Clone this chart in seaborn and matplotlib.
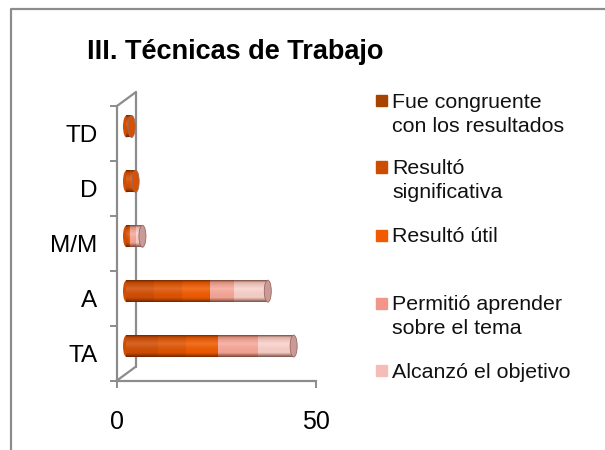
import matplotlib
matplotlib.use("Agg")
import matplotlib.pyplot as plt
from matplotlib.colors import LinearSegmentedColormap
from matplotlib.lines import Line2D
from matplotlib.patches import Ellipse, Rectangle
import numpy as np
import seaborn as sns

categories = ['TD', 'D', 'M/M', 'A', 'TA']
congruente = [0.5, 1.0, 0.3, 7, 8]
significativa = [0.4, 0.7, 0.3, 7, 7]
util = [0.4, 0.6, 0.3, 7, 8]
aprender = [0, 0, 1.5, 6, 10]
objetivo = [0, 0, 1.6, 8.5, 9]

series_names = ['Fue congruente\ncon los resultados', 'Resultó\nsignificativa', 'Resultó útil',
                'Permitió aprender\nsobre el tema', 'Alcanzó el objetivo']
series_colors = ['#A84200', '#CC4C00', '#F05A00', '#F19688', '#F5BDB7']
# the cylinders look brighter than their legend keys
bar_colors = ['#D24D02', '#DF5300', '#F05A00', '#F7A89A', '#FAD2CD']
xticks = [0, 50]

W, H = 605, 450
GRAY = '#8c8c8c'

sns.set_theme(style='white')
plt.rcParams['font.family'] = ['Liberation Sans', 'DejaVu Sans']


def rect(x0, y0, x1, y1):
    """axes rect from pixel box, y measured from the top"""
    return [x0 / W, 1 - y1 / H, (x1 - x0) / W, (y1 - y0) / H]


fig = plt.figure(figsize=(W / 100, H / 100), dpi=100, facecolor='white')

# frame of the pasted chart, only top and left are visible
fig.add_artist(Line2D([11 / W, 11 / W, 1], [0, 1 - 9 / H, 1 - 9 / H], color=GRAY, lw=1.6))

fig.text(87 / W, 1 - 52 / H, 'III. Técnicas de Trabajo', fontsize=19.5, fontweight='bold',
         color='black', va='center', ha='left')

# front axes
ax = fig.add_axes(rect(117, 106, 316, 380.5))
ax.set_xlim(0, 50)
ax.set_ylim(5, 0)
for side in ['top', 'right']:
    ax.spines[side].set_visible(False)
for side in ['left', 'bottom']:
    ax.spines[side].set_color(GRAY)
    ax.spines[side].set_linewidth(1.6)
ax.set_xticks(xticks)
ax.set_yticks(range(len(categories) + 1))
ax.set_yticklabels([])
ax.set_yticks(np.arange(len(categories)) + 0.5, minor=True)
ax.set_yticklabels(categories, minor=True, fontsize=17.5)
ax.tick_params(axis='y', which='major', left=True, length=5, width=1.4, color=GRAY)
ax.tick_params(axis='y', which='minor', left=False, pad=10, labelcolor='black')
ax.tick_params(axis='x', bottom=True, length=5, width=1.4, color=GRAY, labelsize=18, pad=16, labelcolor='black')
ax.grid(False)
ax.patch.set_alpha(0)

# back wall of the 3d box
dx, dy = 19 / 199, 14 / 274.5
for xs, ys in [([0, dx], [1, 1 + dy]), ([dx, dx], [1 + dy, dy]), ([dx, 0], [dy, 0])]:
    ax.plot(xs, ys, color=GRAY, lw=1.6, transform=ax.transAxes, clip_on=False)

# bars sit half way into the box
ax_bars = fig.add_axes(rect(117 + 9.5, 106 - 7, 316 + 9.5, 380.5 - 7))
stack = np.array([congruente, significativa, util, aprender, objetivo], dtype=float)
totals = stack.cumsum(axis=0)
for i in range(len(series_names) - 1, -1, -1):
    sns.barplot(x=totals[i], y=categories, order=categories, orient='y', color=bar_colors[i],
                saturation=1, width=0.4, linewidth=0, ax=ax_bars)
for bar in ax_bars.patches:
    bar.set_zorder(2)

shade = LinearSegmentedColormap.from_list('shade', [
    (0.0, (0.25, 0.08, 0.0, 0.70)),
    (0.10, (0.35, 0.12, 0.0, 0.18)),
    (0.40, (1, 1, 1, 0.14)),
    (0.80, (0.35, 0.12, 0.0, 0.04)),
    (1.0, (0.2, 0.06, 0.0, 0.65)),
])
grad = np.linspace(0, 1, 64).reshape(-1, 1)
cap_w = 7 / (199 / 50)
n = len(categories)
for pos, bar in enumerate(ax_bars.patches[:n]):
    x1 = bar.get_width()
    y0, h = bar.get_y(), bar.get_height()
    left_cap = Ellipse((0, pos), cap_w, h, facecolor=bar_colors[0], lw=0, zorder=1, clip_on=False)
    ax_bars.add_patch(left_cap)
    ax_bars.imshow(grad, extent=[0, x1, y0 + h, y0], cmap=shade, aspect='auto', zorder=4,
                   interpolation='bilinear')
    # same shading on the rounded left end, so no seam shows
    cap_shade = ax_bars.imshow(grad, extent=[-cap_w / 2, 0, y0 + h, y0], cmap=shade, aspect='auto',
                               zorder=1.5, interpolation='bilinear')
    cap_shade.set_clip_path(left_cap)
    end = '#C99A98' if stack[3:, pos].sum() > 0 else '#D85000'
    ax_bars.add_patch(Ellipse((x1, pos), cap_w, h, facecolor=end, edgecolor='#9a6a60', lw=0.6, zorder=5,
                              clip_on=False))
ax_bars.set_xlim(0, 50)
ax_bars.set_ylim(4.5, -0.5)
ax_bars.axis('off')

# legend is spaced unevenly in the original, so placed by hand
legend_y = [100.5, 167, 235, 303, 370.5]
for name, color, y in zip(series_names, series_colors, legend_y):
    fig.add_artist(Rectangle((376 / W, 1 - (y + 5.5) / H), 11 / W, 11 / H, color=color,
                             transform=fig.transFigure))
    fig.text(392 / W, 1 - (y - 7.5) / H, name, fontsize=15.4, color='#111111', va='top', ha='left',
             linespacing=1.32)

fig.savefig('out.png', dpi=100)
